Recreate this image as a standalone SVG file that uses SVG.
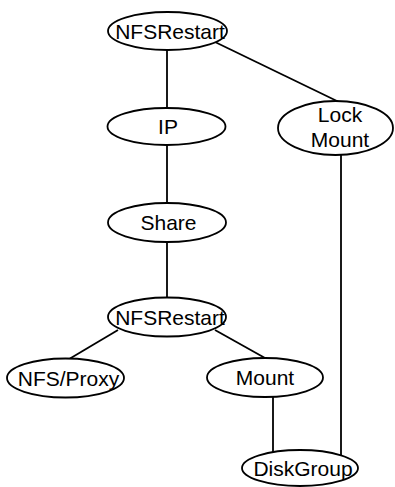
<svg xmlns="http://www.w3.org/2000/svg" width="395" height="487" viewBox="0 0 395 487">
<style>
.n ellipse{fill:#fff;stroke:#000;stroke-width:1.8}
.n text{font-family:"Liberation Sans",Arial,sans-serif;font-size:21px;fill:#000;text-anchor:middle}
#edges line{stroke:#000;stroke-width:1.8}
</style>
<rect width="395" height="487" fill="#fff"/>
<g id="edges">
<line x1="167" y1="49.5" x2="167" y2="108"/>
<line x1="215" y1="42" x2="338" y2="101.5"/>
<line x1="167" y1="145" x2="167" y2="203"/>
<line x1="167" y1="242" x2="167" y2="298"/>
<line x1="118" y1="330" x2="70" y2="358.5"/>
<line x1="215" y1="330" x2="265" y2="358"/>
<line x1="273" y1="397" x2="273" y2="452"/>
<line x1="341" y1="155" x2="341" y2="455.5"/>
</g>
<g id="nfsrestart1" class="n"><ellipse cx="167.5" cy="31" rx="59.5" ry="19"/><text x="170" y="38.5">NFSRestart</text></g>
<g id="ip" class="n"><ellipse cx="166.5" cy="126.5" rx="59" ry="18.5"/><text x="168" y="134">IP</text></g>
<g id="lockmount" class="n"><ellipse cx="335.5" cy="128" rx="57.5" ry="27"/><text x="340" y="122">Lock</text><text x="340" y="147">Mount</text></g>
<g id="share" class="n"><ellipse cx="167" cy="222.5" rx="59" ry="19.5"/><text x="168.5" y="230">Share</text></g>
<g id="nfsrestart2" class="n"><ellipse cx="167" cy="317" rx="59" ry="19.5"/><text x="170" y="324.5">NFSRestart</text></g>
<g id="nfsproxy" class="n"><ellipse cx="65.5" cy="378" rx="58.5" ry="19.5"/><text x="68.5" y="385.5">NFS/Proxy</text></g>
<g id="mount" class="n"><ellipse cx="265" cy="377.5" rx="58" ry="19.5"/><text x="265" y="385">Mount</text></g>
<g id="diskgroup" class="n"><ellipse cx="300" cy="468" rx="58" ry="18"/><text x="303" y="475.5">DiskGroup</text></g>
</svg>
